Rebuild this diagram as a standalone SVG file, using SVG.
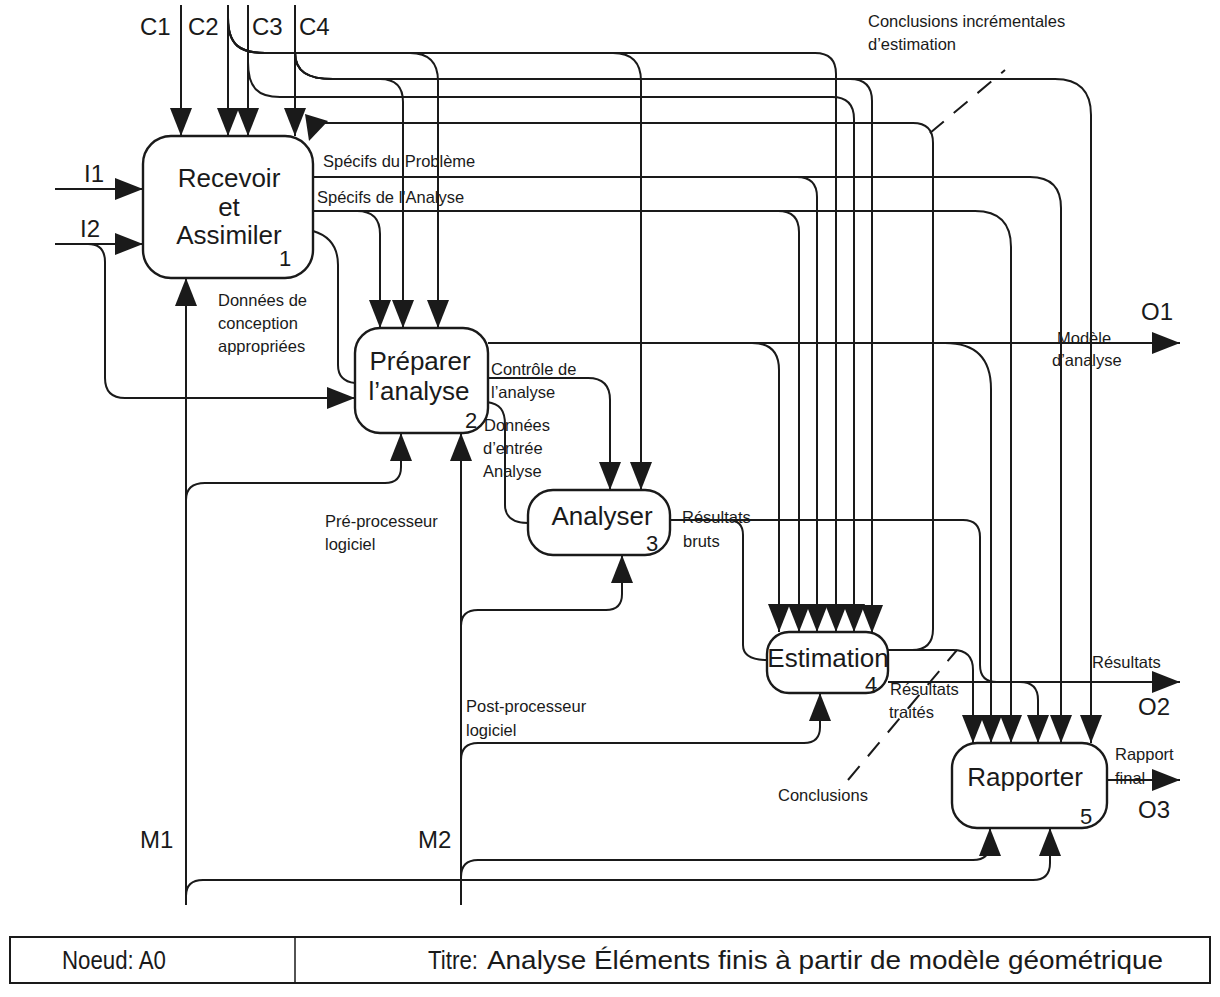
<svg xmlns="http://www.w3.org/2000/svg" width="1220" height="997" viewBox="0 0 1220 997">
<style>
.box{fill:#fff;stroke:#1a1a1a;stroke-width:2.4}
.ln{fill:none;stroke:#1a1a1a;stroke-width:2}
.ar{fill:none;stroke:#1a1a1a;stroke-width:2;marker-end:url(#ah)}
.dash{fill:none;stroke:#1a1a1a;stroke-width:2;stroke-dasharray:18 13}
.bt{font-family:"Liberation Sans",Arial,sans-serif;font-size:26px;fill:#1a1a1a}
.num{font-family:"Liberation Sans",Arial,sans-serif;font-size:22px;fill:#1a1a1a}
.lb{font-family:"Liberation Sans",Arial,sans-serif;font-size:16.5px;fill:#1a1a1a}
.io{font-family:"Liberation Sans",Arial,sans-serif;font-size:24px;fill:#1a1a1a}
.tt{font-family:"Liberation Sans",Arial,sans-serif;font-size:25px;fill:#1a1a1a}
</style>
<defs>
<marker id="ah" markerUnits="userSpaceOnUse" markerWidth="28" markerHeight="22" viewBox="0 0 28 22" refX="28" refY="11" orient="auto"><path d="M0,0L28,11L0,22z" fill="#1a1a1a"/></marker>
</defs>
<rect width="1220" height="997" fill="#fff"/>

<g id="connectors">
<!-- controls into box 1 -->
<path class="ar" d="M181,5V136"/>
<path class="ar" d="M228,5V136"/>
<path class="ar" d="M248,5V136"/>
<path class="ar" d="M295,5V136"/>
<!-- C2 branches (y=53) -->
<path class="ar" d="M228,18C228,45 240,53 265,53H410Q438,53 438,81V328"/>
<path class="ar" d="M228,18C228,45 240,53 265,53H613Q641,53 641,81V490"/>
<path class="ar" d="M228,18C228,45 240,53 265,53H815Q836,53 836,74V632"/>
<!-- C3 branch (y=97) -->
<path class="ar" d="M248,62C248,88 258,97 280,97H832Q854,97 854,119V632"/>
<!-- C4 branches (y=79) -->
<path class="ar" d="M295,52C295,72 308,79 333,79H380Q403,79 403,102V328"/>
<path class="ar" d="M295,52C295,72 308,79 333,79H850Q872,79 872,101V633"/>
<path class="ar" d="M295,52C295,72 308,79 333,79H1055Q1091,79 1091,115V743"/>
<!-- Spécifs du Problème -->
<path class="ar" d="M313,177H797Q817,177 817,197V632"/>
<path class="ar" d="M313,177H1030Q1061,177 1061,208V743"/>
<!-- Spécifs de l'Analyse -->
<path class="ar" d="M313,211H357Q380,211 380,234V328"/>
<path class="ar" d="M313,211H778Q799,211 799,232V632"/>
<path class="ar" d="M313,211H975Q1011,211 1011,247V743"/>
<!-- Données de conception appropriées -->
<path class="ln" d="M313,231C330,236 338,248 338,265V365C338,377 345,382 355,383"/>
<!-- Inputs -->
<path class="ar" d="M55,189H143"/>
<path class="ar" d="M55,244H143"/>
<path class="ar" d="M55,244H88Q105,244 105,262V378Q105,398 125,398H355"/>
<!-- Modèle d'analyse -->
<path class="ar" d="M488,343H1180"/>
<path class="ar" d="M488,343H752Q779,343 779,370V632"/>
<path class="ar" d="M488,343H945Q991,343 991,389V743"/>
<!-- Contrôle de l'analyse -->
<path class="ar" d="M488,378H588Q610,378 610,400V490"/>
<!-- Données d'entrée Analyse -->
<path class="ln" d="M487,402C500,404 505,410 505,425V505C505,518 515,523 528,523"/>
<!-- Résultats bruts -->
<path class="ln" d="M670,520H728Q743,520 743,535V645Q743,660 767,660"/>
<path class="ln" d="M670,520H963Q980,520 980,537V665Q980,682 997,682"/>
<!-- Estimation outputs -->
<path class="ar" d="M888,650H953Q973,650 973,670V743"/>
<path class="ln" d="M888,650H912Q933,650 933,629V143Q933,123 913,123H322"/>
<polygon points="305,114 328,121 309,141" fill="#1a1a1a"/>
<path class="ar" d="M888,682H1180"/>
<path class="ar" d="M888,682H1020Q1038,682 1038,700V743"/>
<!-- Rapport final -->
<path class="ar" d="M1107,780H1180"/>
<!-- Mechanisms M1 -->
<path class="ar" d="M186,905V278"/>
<path class="ar" d="M186,905V500Q186,483 205,483H385Q401,483 401,467V433"/>
<path class="ar" d="M186,905V896Q186,880 203,880H1033Q1050,880 1050,863V828"/>
<!-- Mechanisms M2 -->
<path class="ar" d="M461,905V433"/>
<path class="ar" d="M461,905V626Q461,610 478,610H606Q622,610 622,594V555"/>
<path class="ar" d="M461,905V760Q461,743 478,743H804Q820,743 820,727V693"/>
<path class="ar" d="M461,905V877Q461,860 478,860H973Q990,860 990,843V828"/>
<!-- dashed leaders -->
<path class="dash" d="M930,133L1005,70"/>
<path class="dash" d="M848,780L957,650"/>
</g>

<g id="node1">
<rect class="box" x="143" y="136" width="170" height="142" rx="28"/>
<text class="bt" x="229" y="187" text-anchor="middle">Recevoir</text>
<text class="bt" x="229" y="216" text-anchor="middle">et</text>
<text class="bt" x="229" y="244" text-anchor="middle">Assimiler</text>
<text class="num" x="279" y="266">1</text>
</g>
<g id="node2">
<rect class="box" x="355" y="328" width="133" height="105" rx="25"/>
<text class="bt" x="420" y="370" text-anchor="middle">Préparer</text>
<text class="bt" x="419" y="400" text-anchor="middle">l’analyse</text>
<text class="num" x="465" y="428">2</text>
</g>
<g id="node3">
<rect class="box" x="528" y="490" width="142" height="65" rx="25"/>
<text class="bt" x="602" y="525" text-anchor="middle">Analyser</text>
<text class="num" x="646" y="551">3</text>
</g>
<g id="node4">
<rect class="box" x="767" y="632" width="121" height="61" rx="22"/>
<text class="bt" x="828" y="667" text-anchor="middle">Estimation</text>
<text class="num" x="865" y="692">4</text>
</g>
<g id="node5">
<rect class="box" x="952" y="743" width="155" height="85" rx="25"/>
<text class="bt" x="1025" y="786" text-anchor="middle">Rapporter</text>
<text class="num" x="1080" y="824">5</text>
</g>

<g id="labels">
<text class="io" x="140" y="35">C1</text>
<text class="io" x="188" y="35">C2</text>
<text class="io" x="252" y="35">C3</text>
<text class="io" x="299" y="35">C4</text>
<text class="io" x="84" y="182">I1</text>
<text class="io" x="80" y="237">I2</text>
<text class="io" x="140" y="848">M1</text>
<text class="io" x="418" y="848">M2</text>
<text class="io" x="1141" y="320">O1</text>
<text class="io" x="1138" y="715">O2</text>
<text class="io" x="1138" y="818">O3</text>
<text class="lb" x="323" y="167">Spécifs du Problème</text>
<text class="lb" x="317" y="203">Spécifs de l'Analyse</text>
<text class="lb" x="218" y="306">Données de</text>
<text class="lb" x="218" y="329">conception</text>
<text class="lb" x="218" y="352">appropriées</text>
<text class="lb" x="491" y="375">Contrôle de</text>
<text class="lb" x="491" y="398">l’analyse</text>
<text class="lb" x="484" y="431">Données</text>
<text class="lb" x="483" y="454">d’entrée</text>
<text class="lb" x="483" y="477">Analyse</text>
<text class="lb" x="682" y="523">Résultats</text>
<text class="lb" x="683" y="547">bruts</text>
<text class="lb" x="325" y="527">Pré-processeur</text>
<text class="lb" x="325" y="550">logiciel</text>
<text class="lb" x="466" y="712">Post-processeur</text>
<text class="lb" x="466" y="736">logiciel</text>
<text class="lb" x="1057" y="344">Modèle</text>
<text class="lb" x="1052" y="366">d’analyse</text>
<text class="lb" x="1092" y="668">Résultats</text>
<text class="lb" x="890" y="695">Résultats</text>
<text class="lb" x="889" y="718">traités</text>
<text class="lb" x="1115" y="760">Rapport</text>
<text class="lb" x="1115" y="784">final</text>
<text class="lb" x="778" y="801">Conclusions</text>
<text class="lb" x="868" y="27">Conclusions incrémentales</text>
<text class="lb" x="868" y="50">d’estimation</text>
</g>

<g id="titleblock">
<rect x="10" y="937" width="1200" height="46" fill="none" stroke="#1a1a1a" stroke-width="2"/>
<line x1="295" y1="937" x2="295" y2="983" stroke="#1a1a1a" stroke-width="1.5"/>
<text class="tt" x="62" y="969" textLength="104" lengthAdjust="spacingAndGlyphs">Noeud: A0</text>
<text class="tt" x="428" y="969" textLength="50" lengthAdjust="spacingAndGlyphs">Titre:</text>
<text class="tt" x="487" y="969" textLength="676" lengthAdjust="spacingAndGlyphs">Analyse Éléments finis à partir de modèle géométrique</text>
</g>
</svg>
